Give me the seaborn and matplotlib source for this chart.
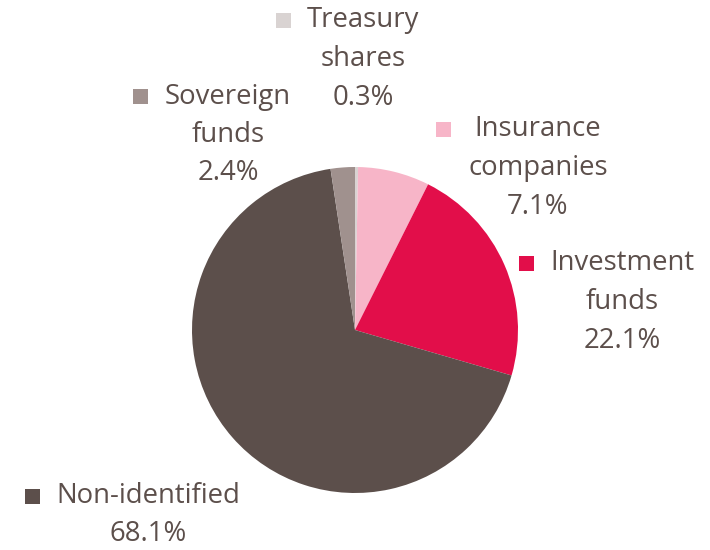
import matplotlib
matplotlib.use("Agg")
import matplotlib.pyplot as plt
import seaborn as sns
from matplotlib.patches import Rectangle

categories = ["Treasury shares", "Insurance companies", "Investment funds", "Non-identified", "Sovereign funds"]
values = [0.3, 7.1, 22.1, 68.1, 2.4]
label_lines = [["Treasury", "shares", "0.3%"],
               ["Insurance", "companies", "7.1%"],
               ["Investment", "funds", "22.1%"],
               ["Non-identified", "68.1%"],
               ["Sovereign", "funds", "2.4%"]]
colors = ["#D9D3D2", "#F7B5C8", "#E20E4A", "#5C4F4B", "#A0918E"]

sns.set_theme(style="white")
plt.rcParams['font.family'] = ['Open Sans', 'DejaVu Sans']

W, H = 710, 550
fig = plt.figure(figsize=(W / 100, H / 100), dpi=100)
cx, cy, r = 355, 330, 163
ax = fig.add_axes([(cx - r) / W, (H - cy - r) / H, 2 * r / W, 2 * r / H])
ax.pie(values, colors=colors, startangle=90, counterclock=False,
       radius=1, wedgeprops=dict(linewidth=0))
ax.set_xlim(-1, 1)
ax.set_ylim(-1, 1)
ax.set_aspect("equal")
ax.axis("off")

txt_color = "#5C4F4B"
fs = 19.8

def px(x, y):
    return x / W, 1 - y / H

layout = [
    (283, 20, 363, 20, 39),
    (443, 129, 538, 129, 39),
    (526, 263, 622, 263, 39),
    (32, 496, 148, 496, 38),
    (140, 97, 228, 97, 38),
]
for lines, col, (sx, sy, tx, ty, dy) in zip(label_lines, colors, layout):
    s = 15
    fig.patches.append(Rectangle(px(sx - s / 2, sy + s / 2), s / W, s / H,
                                 transform=fig.transFigure, facecolor=col,
                                 edgecolor="none"))
    for i, line in enumerate(lines):
        fig.text(*px(tx, ty + i * dy), line, ha="center", va="center",
                 fontsize=fs, color=txt_color)

fig.savefig("out.png", dpi=100)
